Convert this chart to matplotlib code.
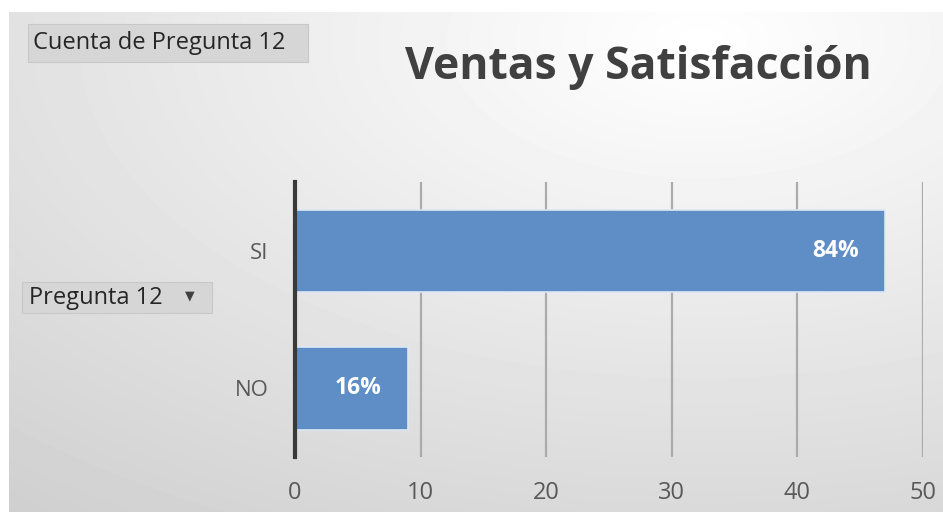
import matplotlib
matplotlib.use("Agg")
import matplotlib.pyplot as plt
import numpy as np
from matplotlib.patches import Rectangle

categorias = ["NO", "SI"]
cuentas = [9, 47]
xticks = [0, 10, 20, 30, 40, 50]
titulo = "Ventas y Satisfacción"

plt.rcParams['font.family'] = ['Open Sans', 'DejaVu Sans']

fig = plt.figure(figsize=(9.43, 5.12), dpi=100)

# fondo con degradado radial (con borde blanco arriba y a la izquierda)
bg = fig.add_axes([0, 0, 1, 1])
yy, xx = np.mgrid[0:512, 0:943]
d = np.sqrt(((xx - 700) / 943.0) ** 2 + ((yy - 40) / 512.0) ** 2)
val = np.clip(1.0 - 0.16 * d, 0.80, 1.0)
val[:12, :] = 1.0
val[:, :9] = 1.0
bg.imshow(val, cmap='gray', vmin=0, vmax=1, aspect='auto', extent=[0, 1, 0, 1])
bg.set_xlim(0, 1)
bg.set_ylim(0, 1)
bg.axis('off')

ax = fig.add_axes([0.3128, 0.1074, 0.666, 0.537])
ax.patch.set_alpha(0)
y = np.arange(len(categorias))
bars = ax.barh(y, cuentas, height=0.6, color='#5f8dc6', edgecolor='#dce8f5', linewidth=1.2, zorder=3)
total = sum(cuentas)
for b, c in zip(bars, cuentas):
    ax.annotate(f"{round(c / total * 100)}%", (b.get_width(), b.get_y() + b.get_height() / 2),
                xytext=(-19, 0), textcoords='offset points',
                color='white', fontsize=16.5, fontweight='bold', ha='right', va='center', zorder=4)

ax.set_xlim(0, 50)
ax.set_ylim(-0.5, 1.5)
ax.set_xticks(xticks)
ax.set_yticks(y)
ax.set_yticklabels(categorias)
ax.grid(axis='x', color='#ababab', linewidth=1.6, zorder=0)
ax.tick_params(axis='both', length=0, colors='#595959', labelsize=17)
ax.tick_params(axis='x', pad=17)
ax.tick_params(axis='y', pad=19, labelsize=16)
for s in ['top', 'right', 'bottom']:
    ax.spines[s].set_visible(False)
ax.spines['left'].set_color('#3a3a3a')
ax.spines['left'].set_linewidth(3)
ax.spines['left'].set_zorder(5)

# titulo
fig.text(638 / 943, 1 - 67 / 512, titulo, fontsize=32, fontweight='bold', color='#404040',
         ha='center', va='center')

# botones de campo
def boton(x0, y0, x1, y1, texto, tx):
    p = Rectangle((x0 / 943, 1 - y1 / 512), (x1 - x0) / 943, (y1 - y0) / 512,
                  transform=fig.transFigure, facecolor='#d6d6d6', edgecolor='#c8c8c8', linewidth=0.8)
    fig.patches.append(p)
    fig.text(tx / 943, 1 - (y0 + y1) / 2 / 512, texto, fontsize=17, color='#262626',
             ha='left', va='center')

boton(28, 24, 308, 62, "Cuenta de Pregunta 12", 33)
boton(22, 282, 212, 313, "Pregunta 12", 29)
fig.text(190 / 943, 1 - 296 / 512, "▼", fontsize=9, color='#404040', ha='center', va='center')

fig.savefig("out.png", dpi=100)
